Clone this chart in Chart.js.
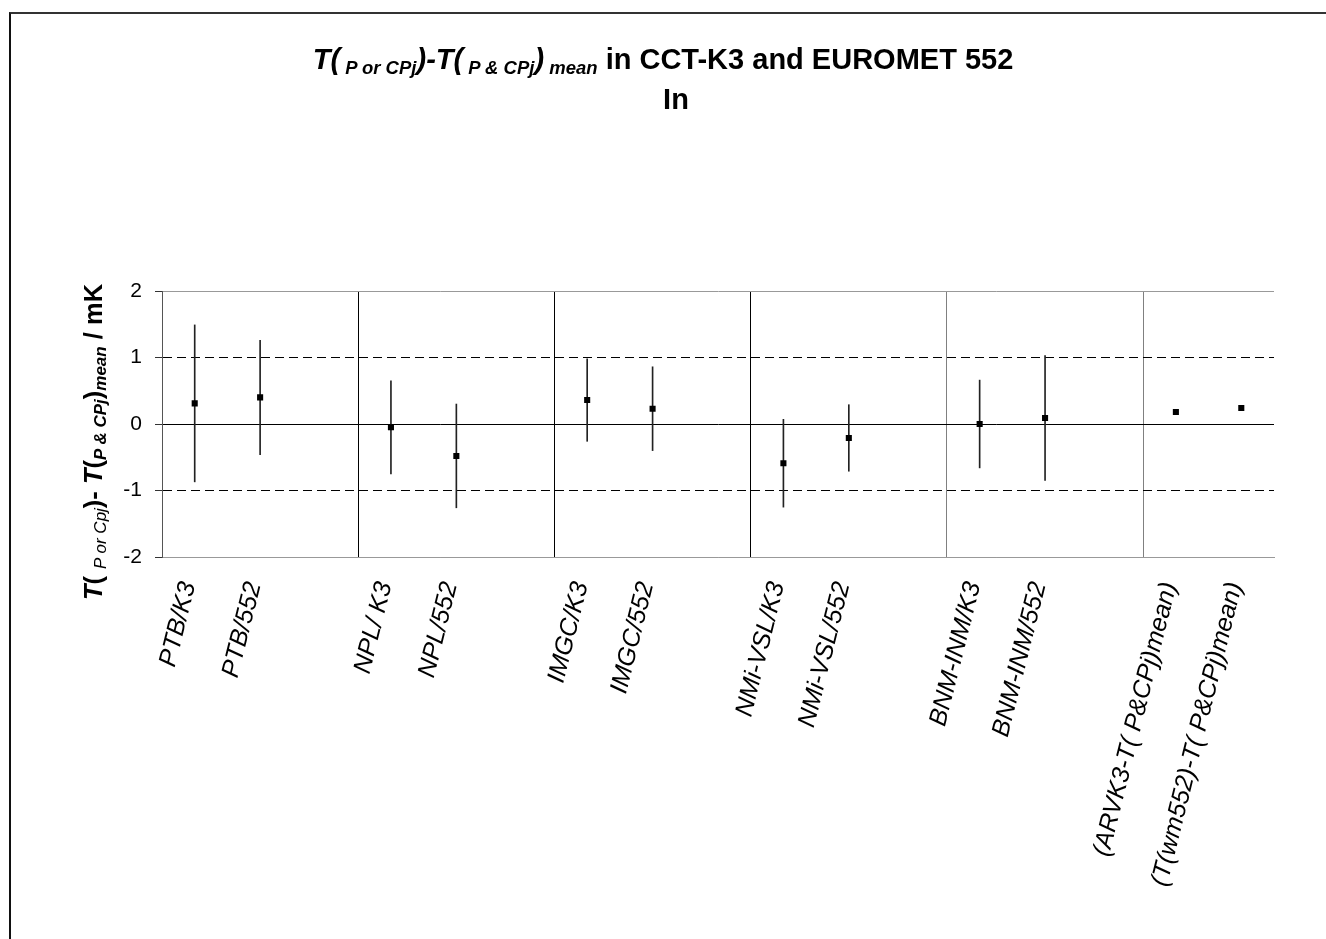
<!DOCTYPE html>
<html>
<head>
<meta charset="utf-8">
<script src="https://cdn.jsdelivr.net/npm/chart.js@4.4.1/dist/chart.umd.min.js"></script>
<style>
    body { margin: 0; background: #fff; overflow: hidden; }
    #wrap { position: relative; width: 1326px; height: 939px; overflow: hidden; font-family: "Liberation Sans", Arial, sans-serif; }
    #chart { position: absolute; left: 0; top: 0; }
    .frame { position: absolute; left: 9px; top: 12px; width: 2000px; height: 2000px; border-top: 2px solid #333; border-left: 2px solid #111; }
    .title1 { position: absolute; left: 0; width: 1326px; top: 43px; text-align: center; font-weight: bold; font-size: 29px; white-space: nowrap; color: #000; }
    .title2 { position: absolute; left: 676px; top: 83px; transform: translateX(-50%); font-weight: bold; font-size: 29px; color: #000; }
    .sm { font-size: 18.5px; font-style: italic; position: relative; top: 5px; }
    .ylabel { position: absolute; left: 93px; top: 442px; transform: translate(-50%, -50%) rotate(-90deg); white-space: nowrap; font-weight: bold; font-size: 25.5px; color: #000; }
    .ylabel .sm { font-size: 17px; top: 4px; }
    .ylabel .thin { font-weight: normal; }
</style>
</head>
<body>
<div id="wrap">
    <canvas id="chart" width="1326" height="939"></canvas>
    <div class="frame"></div>
    <div class="title1"><i>T(</i><span class="sm"> P or CPj</span><i>)-T(</i><span class="sm"> P &amp; CPj</span><i>)</i><span class="sm"> mean</span> in CCT-K3 and EUROMET 552</div>
    <div class="title2">In</div>
    <div class="ylabel"><i>T</i>( <span class="sm thin">P or Cpj</span>)- <i>T</i>(<span class="sm">P &amp; CPj</span>)<span class="sm">mean</span> / mK</div>
</div>
<script>
// 类别（空字符串为组间空位）
const labels = ['PTB/K3', 'PTB/552', '', 'NPL/ K3', 'NPL/552', '', 'IMGC/K3', 'IMGC/552', '',
    'NMi-VSL/K3', 'NMi-VSL/552', '', 'BNM-INM/K3', 'BNM-INM/552', '',
    '(ARVK3-T( P&CPj)mean)', '(T(wm552)-T( P&CPj)mean)'];
// 偏差值 / mK
const values = [0.31, 0.40, null, -0.05, -0.48, null, 0.36, 0.23, null,
    -0.59, -0.21, null, 0.00, 0.09, null, 0.18, 0.24];
// 不确定度 / mK
const uncert = [1.18, 0.86, null, 0.70, 0.78, null, 0.62, 0.63, null,
    0.66, 0.50, null, 0.66, 0.94, null, null, null];
// y轴刻度
const yTicks = [-2, -1, 0, 1, 2];
// 虚线参考线
const refLines = [-1, 1];

const fontFamily = '"Liberation Sans", Arial, sans-serif';

// 误差棒 [下限, 上限]
const errBars = values.map((v, i) => (v === null || uncert[i] === null) ? null : [v - uncert[i], v + uncert[i]]);

const ctx = document.getElementById('chart');
const chart = new Chart(ctx, {
    data: {
        labels: labels,
        datasets: [
            {
                type: 'line',
                data: values,
                showLine: false,
                pointStyle: 'rect',
                pointRadius: 4.3,
                pointBackgroundColor: '#000',
                pointBorderColor: '#000',
                pointBorderWidth: 0,
                order: 0
            },
            {
                type: 'bar',
                data: errBars,
                backgroundColor: '#222',
                borderWidth: 0,
                barThickness: 1,
                order: 1
            }
        ]
    },
    options: {
        responsive: false,
        animation: false,
        layout: { padding: { top: 291, right: 52, left: 0, bottom: 0 } },
        plugins: {
            legend: { display: false },
            tooltip: { enabled: false }
        },
        scales: {
            x: {
                type: 'category',
                offset: true,
                afterFit: function(scale) { scale.height = 382; },
                grid: {
                    offset: true,
                    drawTicks: false,
                    color: function(c) {
                        const i = c.index;
                        if (i === labels.length) return '#999';
                        if (i > 0 && labels[i - 1] === '') return i >= 12 ? '#808080' : '#000';
                        return 'rgba(0,0,0,0)';
                    }
                },
                border: { color: '#999' },
                ticks: {
                    autoSkip: false,
                    maxRotation: 76,
                    minRotation: 76,
                    padding: 22,
                    labelOffset: -6,
                    color: '#000',
                    font: { family: fontFamily, size: 25, style: 'italic' }
                }
            },
            y: {
                min: -2,
                max: 2,
                afterFit: function(scale) { scale.width = 162; },
                afterBuildTicks: function(scale) {
                    scale.ticks = yTicks.map(v => ({ value: v }));
                },
                grid: {
                    tickLength: 7,
                    tickColor: '#333',
                    color: function(c) {
                        if (!c.tick) return '#999';
                        return Math.abs(c.tick.value) === 2 ? '#999' : '#000';
                    }
                },
                border: {
                    color: '#555',
                    dash: function(c) {
                        return (c.tick && refLines.includes(c.tick.value)) ? [9, 5] : [];
                    }
                },
                ticks: {
                    padding: 13,
                    color: '#000',
                    font: { family: fontFamily, size: 21 }
                }
            }
        }
    }
});
</script>
</body>
</html>
